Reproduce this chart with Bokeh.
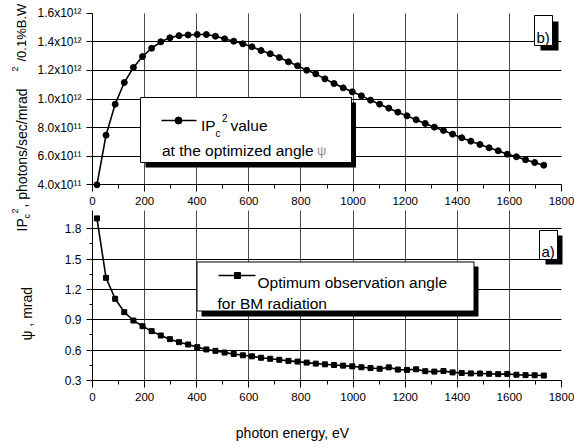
import math
from bokeh.plotting import figure
from bokeh.models import (Range1d, LinearAxis, FixedTicker, Grid, Label, BoxAnnotation)
from bokeh.embed import file_html
from bokeh.resources import INLINE

# ---------------- data ----------------
energy_ev = [17, 52, 87, 122, 157, 192, 227, 262, 297, 332,
             367, 402, 437, 472, 507, 542, 577, 612, 647, 682,
             717, 752, 787, 822, 857, 892, 927, 962, 997, 1032,
             1067, 1102, 1137, 1172, 1207, 1242, 1277, 1312, 1347, 1382,
             1417, 1452, 1487, 1522, 1557, 1592, 1627, 1662, 1697, 1732]

ipc2_value = [4.00e11, 7.47e11, 9.64e11, 1.115e12, 1.220e12, 1.297e12, 1.355e12, 1.400e12, 1.428e12, 1.443e12,
              1.448e12, 1.451e12, 1.451e12, 1.439e12, 1.421e12, 1.404e12, 1.386e12, 1.365e12, 1.339e12, 1.316e12,
              1.290e12, 1.260e12, 1.232e12, 1.201e12, 1.176e12, 1.141e12, 1.108e12, 1.078e12, 1.050e12, 1.022e12,
              9.92e11, 9.64e11, 9.36e11, 9.08e11, 8.82e11, 8.55e11, 8.29e11, 8.03e11, 7.80e11, 7.54e11,
              7.29e11, 7.05e11, 6.82e11, 6.59e11, 6.38e11, 6.14e11, 5.96e11, 5.75e11, 5.56e11, 5.37e11]

psi_mrad = [1.903, 1.315, 1.108, 0.976, 0.893, 0.837, 0.788, 0.745, 0.709, 0.679,
            0.656, 0.630, 0.607, 0.593, 0.576, 0.562, 0.549, 0.539, 0.525, 0.515,
            0.505, 0.494, 0.487, 0.477, 0.467, 0.460, 0.453, 0.447, 0.440, 0.431,
            0.423, 0.416, 0.430, 0.408, 0.405, 0.411, 0.392, 0.388, 0.394, 0.380,
            0.374, 0.370, 0.369, 0.366, 0.363, 0.365, 0.357, 0.353, 0.352, 0.349]

x_ticks = [0, 200, 400, 600, 800, 1000, 1200, 1400, 1600, 1800]
x_minor_ticks = [100, 300, 500, 700, 900, 1100, 1300, 1500, 1700]
x_grid_ticks = [200, 400, 600, 800, 1000, 1200, 1400, 1600]

top_y_ticks = [4e11, 6e11, 8e11, 1e12, 1.2e12, 1.4e12, 1.6e12]
top_y_labels = ["4.0x10\u00b9\u00b9", "6.0x10\u00b9\u00b9", "8.0x10\u00b9\u00b9", "1.0x10\u00b9\u00b2",
                "1.2x10\u00b9\u00b2", "1.4x10\u00b9\u00b2", "1.6x10\u00b9\u00b2"]
top_y_grid = [6e11, 8e11, 1e12, 1.2e12, 1.4e12]

psi_ticks = [0.3, 0.6, 0.9, 1.2, 1.5, 1.8]
psi_minor = [0.45, 0.75, 1.05, 1.35, 1.65]
psi_grid = [0.6, 0.9, 1.2, 1.5, 1.8]

# ---------------- layout constants (page pixels) ----------------
W, H = 574, 446
PX0, PX1 = 92, 561          # x = 0 and x = 1800
# The frame covers the whole page; ranges are chosen so both panels sit where they should.
X_RANGE = (-PX0 * 1800.0 / (PX1 - PX0), 1800.0 + (W - PX1) * 1800.0 / (PX1 - PX0))
# lower panel: 0.3 at y=380, 1.8 at y=228.3
K_B = (380 - 228.3) / 1.5
BOT_RANGE = (0.3 - (H - 380) / K_B, 0.3 + 380 / K_B)
# upper panel: 4e11 at y=184.3, 1.6e12 at y=12.7
K_T = (184.3 - 12.7) / 1.2e12
TOP_RANGE = (4e11 - (H - 184.3) / K_T, 1.6e12 + 12.7 / K_T)
FONT = "Liberation Sans"

p = figure(width=W, height=H, output_backend="svg", toolbar_location=None,
           title=None, x_axis_type=None, y_axis_type=None,
           x_range=Range1d(*X_RANGE), y_range=Range1d(*BOT_RANGE),
           min_border_left=0, min_border_right=0, min_border_top=0, min_border_bottom=0)
p.outline_line_color = None
p.background_fill_color = "white"
p.border_fill_color = "white"
p.extra_y_ranges = {"top": Range1d(*TOP_RANGE)}


def style_axis(ax, size, tick_out=7, minor_out=4):
    ax.axis_line_color = "black"
    ax.axis_line_width = 1
    ax.major_tick_line_color = "black"
    ax.minor_tick_line_color = "black"
    ax.major_tick_out = tick_out
    ax.major_tick_in = 0
    ax.minor_tick_out = minor_out
    ax.minor_tick_in = 0
    ax.major_label_text_font = FONT
    ax.major_label_text_font_size = size
    ax.major_label_text_color = "black"
    ax.major_label_standoff = 5


# x axis of the lower panel
bot_x = LinearAxis(fixed_location=0.3, bounds=(0, 1800),
                   ticker=FixedTicker(ticks=x_ticks, minor_ticks=x_minor_ticks))
style_axis(bot_x, "11.5px")
p.add_layout(bot_x, "below")

# x axis of the upper panel
top_x = LinearAxis(y_range_name="top", fixed_location=4e11, bounds=(0, 1800),
                   ticker=FixedTicker(ticks=x_ticks, minor_ticks=x_minor_ticks))
style_axis(top_x, "11.5px")
p.add_layout(top_x, "below")

# psi axis (lower panel)
psi_y = LinearAxis(fixed_location=0, bounds=(0.3, 1.98),
                   ticker=FixedTicker(ticks=psi_ticks, minor_ticks=psi_minor))
style_axis(psi_y, "12px", tick_out=6, minor_out=3)
p.add_layout(psi_y, "left")

# IPc^2 axis (upper panel)
top_y = LinearAxis(y_range_name="top", fixed_location=0, bounds=(4e11, 1.6e12),
                   ticker=FixedTicker(ticks=top_y_ticks, minor_ticks=[]),
                   major_label_overrides=dict(zip(top_y_ticks, top_y_labels)))
style_axis(top_y, "12px", tick_out=6, minor_out=0)
p.add_layout(top_y, "left")

# grids
gx_bot = Grid(dimension=0, ticker=FixedTicker(ticks=x_grid_ticks, minor_ticks=[]),
              cross_bounds=(0.3, 1.98), grid_line_color="#4a4a4a", grid_line_width=1)
gy_bot = Grid(dimension=1, ticker=FixedTicker(ticks=psi_grid, minor_ticks=[]),
              cross_bounds=(0, 1800), grid_line_color="black", grid_line_width=1)
gx_top = Grid(dimension=0, y_range_name="top",
              ticker=FixedTicker(ticks=x_grid_ticks, minor_ticks=[]),
              cross_bounds=(4e11, 1.6e12), grid_line_color="#4a4a4a", grid_line_width=1)
gy_top = Grid(dimension=1, y_range_name="top",
              ticker=FixedTicker(ticks=top_y_grid, minor_ticks=[]),
              cross_bounds=(0, 1800), grid_line_color="black", grid_line_width=1)
for g in (gx_bot, gy_bot, gx_top, gy_top):
    p.add_layout(g)

# data
p.line(energy_ev, ipc2_value, y_range_name="top", line_color="black", line_width=1.6)
p.scatter(energy_ev, ipc2_value, y_range_name="top", marker="circle", size=6,
          fill_color="black", line_color="black")
p.line(energy_ev, psi_mrad, line_color="black", line_width=1.6)
p.scatter(energy_ev, psi_mrad, marker="square", size=5,
          fill_color="black", line_color="black")


# ---------------- annotations (page pixel -> screen units of the full-page frame) ----------------
def sx(px):
    return px


def sy(py):
    return H - py


def x_data(px):
    return X_RANGE[0] + px / W * (X_RANGE[1] - X_RANGE[0])


def yb_data(py):
    return BOT_RANGE[0] + (H - py) / H * (BOT_RANGE[1] - BOT_RANGE[0])


def yt_data(py):
    return TOP_RANGE[0] + (H - py) / H * (TOP_RANGE[1] - TOP_RANGE[0])


def box(l, t, r, b, fill, line=None):
    p.add_layout(BoxAnnotation(left=sx(l), right=sx(r), top=sy(t), bottom=sy(b),
                               left_units="screen", right_units="screen",
                               top_units="screen", bottom_units="screen",
                               fill_color=fill, fill_alpha=1.0,
                               line_color=line, line_width=1, line_alpha=1.0))


def label(px, py, text, size, angle=0.0, color="black", align="left"):
    p.add_layout(Label(x=sx(px), y=sy(py), x_units="screen", y_units="screen",
                       text=text, text_font=FONT, text_font_size=size,
                       text_color=color, angle=angle, text_align=align,
                       text_baseline="alphabetic"))


# legend of upper panel
box(145, 102, 355.5, 167, "black")
box(140, 97, 351, 162, "white", "black")
p.line([x_data(161), x_data(196)], [yt_data(120), yt_data(120)], y_range_name="top",
       line_color="black", line_width=1.6, level="overlay")
p.scatter([x_data(178)], [yt_data(120)], y_range_name="top", marker="circle", size=7,
          fill_color="black", line_color="black", level="overlay")
label(200.5, 125, "IP", "15.5px")
label(215, 132.5, "c", "10px")
label(221.5, 117.5, "2", "10px")
label(230, 125, "value", "15.5px")
label(161.5, 150, "at the optimized angle", "15.5px")
label(316.5, 150, "\u03c8", "13px", color="#8a8a8a")

# legend of lower panel
box(201, 266, 478, 316, "black")
box(196.5, 261.5, 473.5, 310.5, "white", "black")
p.line([x_data(218), x_data(255)], [yb_data(275), yb_data(275)],
       line_color="black", line_width=1.6, level="overlay")
p.scatter([x_data(237)], [yb_data(275)], marker="square", size=6,
          fill_color="black", line_color="black", level="overlay")
label(257, 281.5, "Optimum observation angle", "15.5px")
label(217, 303, "for BM radiation", "15.5px")

# panel tags
box(540, 21, 558, 50, "black")
box(534, 15, 552, 45, "white", "black")
label(536, 37, "b)", "15px")
box(545, 235, 562, 264, "black")
box(539, 230, 557, 259, "white", "black")
label(541, 251, "a)", "15px")

# axis titles
label(292, 432, "photon energy, eV", "14px", align="center")
label(26, 340, "\u03c8 , mrad", "14px", angle=math.pi / 2)
label(21, 231, "IP", "14px", angle=math.pi / 2)
label(26, 218, "c", "9px", angle=math.pi / 2)
label(14, 213, "2", "9px", angle=math.pi / 2)
label(21, 207, ", photons/sec/mrad", "14px", angle=math.pi / 2)
label(14, 71, "2", "9px", angle=math.pi / 2)
label(21, 61, "/0.1%B.W", "13px", angle=math.pi / 2)

open("out.html", "w").write(file_html(p, INLINE))
